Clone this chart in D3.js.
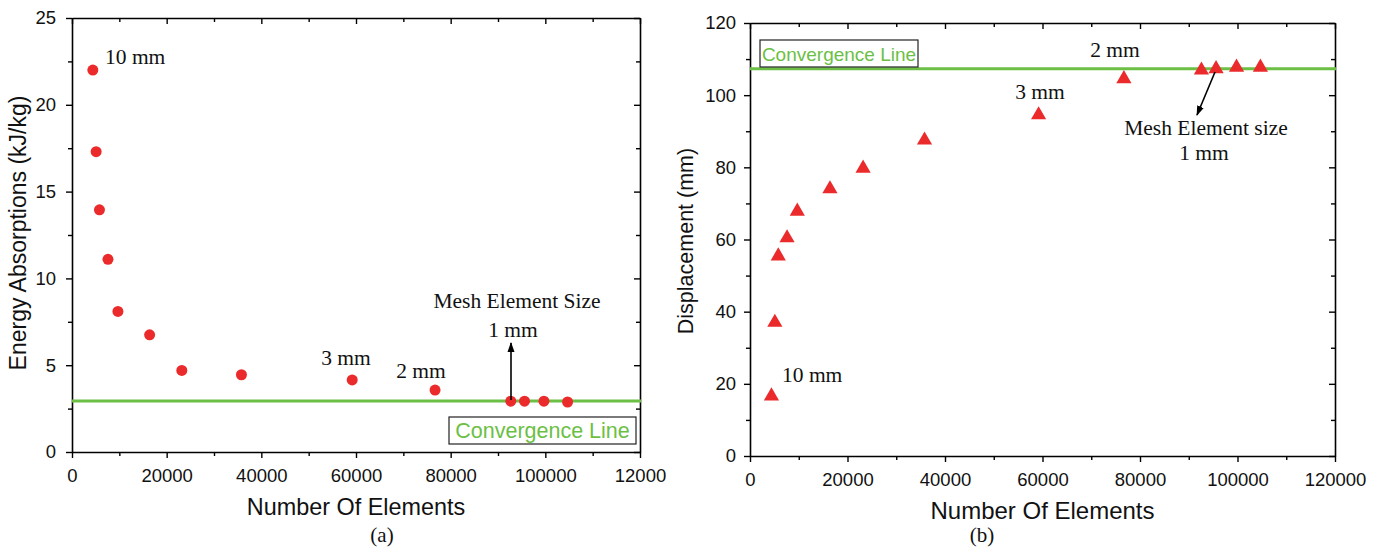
<!DOCTYPE html>
<html><head><meta charset="utf-8">
<script src="https://cdn.jsdelivr.net/npm/d3@7"></script>
<style>body{margin:0;background:#fff}svg{display:block}</style>
</head><body>
<svg id="c" width="1380" height="551"></svg>
<script>
// ---- data ----
const elementsA = [4400, 5100, 5800, 7600, 9700, 16400, 23200, 35800, 59200, 76700, 92700, 95600, 99700, 104700];
const energy = [22.0, 17.3, 13.95, 11.1, 8.1, 6.75, 4.7, 4.45, 4.15, 3.57, 2.93, 2.93, 2.93, 2.88];
const elementsB = [4400, 5100, 5800, 7600, 9700, 16400, 23200, 35800, 59200, 76700, 92600, 95600, 99800, 104700];
const displacement = [16.9, 37.3, 55.7, 60.7, 68.1, 74.3, 80.0, 87.8, 94.8, 104.8, 107.2, 107.6, 108.0, 108.0];
const convA = 2.94, convB = 107.3;
const xTicks = [0, 20000, 40000, 60000, 80000, 100000, 120000];
const xLabelsA = ["0", "20000", "40000", "60000", "80000", "100000", "12000"];
const xLabelsB = ["0", "20000", "40000", "60000", "80000", "100000", "120000"];
const yTicksA = [0, 5, 10, 15, 20, 25];
const yTicksB = [0, 20, 40, 60, 80, 100, 120];

const svg = d3.select("#c");
const red = "#eb2b2b", green = "#6cbf45";
svg.append("defs").append("marker").attr("id","arr").attr("viewBox","0 0 10 10")
  .attr("refX",9).attr("refY",5).attr("markerWidth",10).attr("markerHeight",10)
  .attr("markerUnits","userSpaceOnUse").attr("orient","auto")
  .append("path").attr("d","M0,1.5 L10,5 L0,8.5 z").attr("fill","#000");

function panel(o) {
  const g = svg.append("g");
  const x = d3.scaleLinear().domain([0, 120000]).range([o.l, o.r]);
  const y = d3.scaleLinear().domain([0, o.ymax]).range([o.b, o.t]);
  const fmtX = (d, i) => o.xLabels[i];
  const styleAx = sel => {
    sel.selectAll("path,line").attr("stroke", "#000").attr("stroke-width", 1.4);
    sel.selectAll("text").attr("font-family", "Liberation Sans, Arial, sans-serif").attr("font-size", 18.5).attr("fill", "#111");
    sel.select(".domain").attr("stroke-width", 1.6);
  };
  const xMinor = d3.range(10000, 120000, 20000);
  const yStep = o.yTicks[1] - o.yTicks[0];
  const yMinor = d3.range(yStep / 2, o.ymax, yStep);
  // minor ticks
  g.append("g").attr("transform", `translate(0,${o.b})`).call(d3.axisBottom(x).tickValues(xMinor).tickSize(4).tickFormat("")).call(styleAx).select(".domain").remove();
  g.append("g").attr("transform", `translate(${o.l},0)`).call(d3.axisLeft(y).tickValues(yMinor).tickSize(4).tickFormat("")).call(styleAx).select(".domain").remove();
  g.append("g").attr("transform", `translate(0,${o.t})`).call(d3.axisTop(x).tickValues(xMinor).tickSize(-4).tickFormat("")).call(styleAx).select(".domain").remove();
  g.append("g").attr("transform", `translate(${o.r},0)`).call(d3.axisRight(y).tickValues(yMinor).tickSize(-4).tickFormat("")).call(styleAx).select(".domain").remove();
  // major
  g.append("g").attr("transform", `translate(0,${o.t})`).call(d3.axisTop(x).tickValues(xTicks).tickSize(-6).tickSizeOuter(0).tickFormat("")).call(styleAx);
  g.append("g").attr("transform", `translate(${o.r},0)`).call(d3.axisRight(y).tickValues(o.yTicks).tickSize(-6).tickSizeOuter(0).tickFormat("")).call(styleAx);
  g.append("g").attr("transform", `translate(0,${o.b})`).call(d3.axisBottom(x).tickValues(xTicks).tickSize(6).tickSizeOuter(0).tickPadding(11).tickFormat(fmtX)).call(styleAx);
  g.append("g").attr("transform", `translate(${o.l},0)`).call(d3.axisLeft(y).tickValues(o.yTicks).tickSize(6).tickSizeOuter(0).tickPadding(o.ypad).tickFormat(d3.format("d"))).call(styleAx);
  // convergence line
  g.append("line").attr("x1", o.l).attr("x2", o.r + 1).attr("y1", y(o.conv)).attr("y2", y(o.conv)).attr("stroke", green).attr("stroke-width", 3);
  // titles
  g.append("text").attr("x", (o.l + o.r) / 2).attr("y", o.b + 63).attr("text-anchor", "middle")
    .attr("font-family", "Liberation Sans, Arial, sans-serif").attr("font-size", o.xtfs).attr("fill", "#111").text("Number Of Elements");
  g.append("text").attr("transform", `translate(${o.ytx},${o.yty}) rotate(-90)`).attr("text-anchor", "middle")
    .attr("font-family", "Liberation Sans, Arial, sans-serif").attr("font-size", o.ytfs).attr("fill", "#111").text(o.ytitle);
  g.append("text").attr("x", o.capx).attr("y", 542).attr("text-anchor", "middle")
    .attr("font-family", "Liberation Serif, Times New Roman, serif").attr("font-size", 21).attr("fill", "#111").text(o.cap);
  return { g, x, y };
}

// ---- panel (a) ----
const A = panel({ l: 72, r: 640, t: 18, b: 452, ymax: 25, yTicks: yTicksA, xLabels: xLabelsA, conv: convA, ypad: 10, ytx: 26, yty: 233,
  xtfs: 23.4, ytfs: 23, ytitle: "Energy Absorptions (kJ/kg)", cap: "(a)", capx: 382 });
A.g.selectAll("circle.pt").data(elementsA).enter().append("circle")
  .attr("cx", d => A.x(d)).attr("cy", (d, i) => A.y(energy[i])).attr("r", 5.5).attr("fill", red);

// ---- panel (b) ----
const B = panel({ l: 750, r: 1335, t: 23, b: 456, ymax: 120, yTicks: yTicksB, xLabels: xLabelsB, conv: convB, ypad: 8, ytx: 693, yty: 241,
  xtfs: 24, ytfs: 21.5, ytitle: "Displacement (mm)", cap: "(b)", capx: 982 });
const tri = d3.symbol().type(d3.symbolTriangle).size(100);
B.g.selectAll("path.pt").data(elementsB).enter().append("path")
  .attr("d", tri).attr("transform", (d, i) => `translate(${B.x(d)},${B.y(displacement[i]) + 1})`).attr("fill", red);

// ---- annotations ----
const serif = "Liberation Serif, Times New Roman, serif";
function lab(x, y, t, anchor) {
  svg.append("text").attr("x", x).attr("y", y).attr("text-anchor", anchor || "start")
    .attr("font-family", serif).attr("font-size", 21.5).attr("fill", "#111").text(t);
}
lab(105, 64, "10 mm");
lab(346, 365, "3 mm", "middle");
lab(421, 378, "2 mm", "middle");
lab(517, 308, "Mesh Element Size", "middle");
lab(513, 337, "1 mm", "middle");
svg.append("line").attr("x1", 511).attr("y1", 400).attr("x2", 511).attr("y2", 343).attr("stroke", "#000").attr("stroke-width", 1.6).attr("marker-end", "url(#arr)");

lab(1115, 57, "2 mm", "middle");
lab(1040, 99, "3 mm", "middle");
lab(782, 382, "10 mm");
lab(1206, 135, "Mesh Element size", "middle");
lab(1204, 160, "1 mm", "middle");
svg.append("line").attr("x1", 1215).attr("y1", 72).attr("x2", 1197).attr("y2", 115).attr("stroke", "#000").attr("stroke-width", 1.6).attr("marker-end", "url(#arr)");

function convBox(x, y, w, h, fs) {
  svg.append("rect").attr("x", x).attr("y", y).attr("width", w).attr("height", h).attr("fill", "#fff").attr("stroke", "#222").attr("stroke-width", 1.2);
  svg.append("text").attr("x", x + w / 2).attr("y", y + h - 6).attr("text-anchor", "middle")
    .attr("font-family", "Liberation Sans, Arial, sans-serif").attr("font-size", fs).attr("fill", green).text("Convergence Line");
}
convBox(449, 417, 187, 27, 21.5);
convBox(760, 40, 158, 27, 19);
</script>
</body></html>
